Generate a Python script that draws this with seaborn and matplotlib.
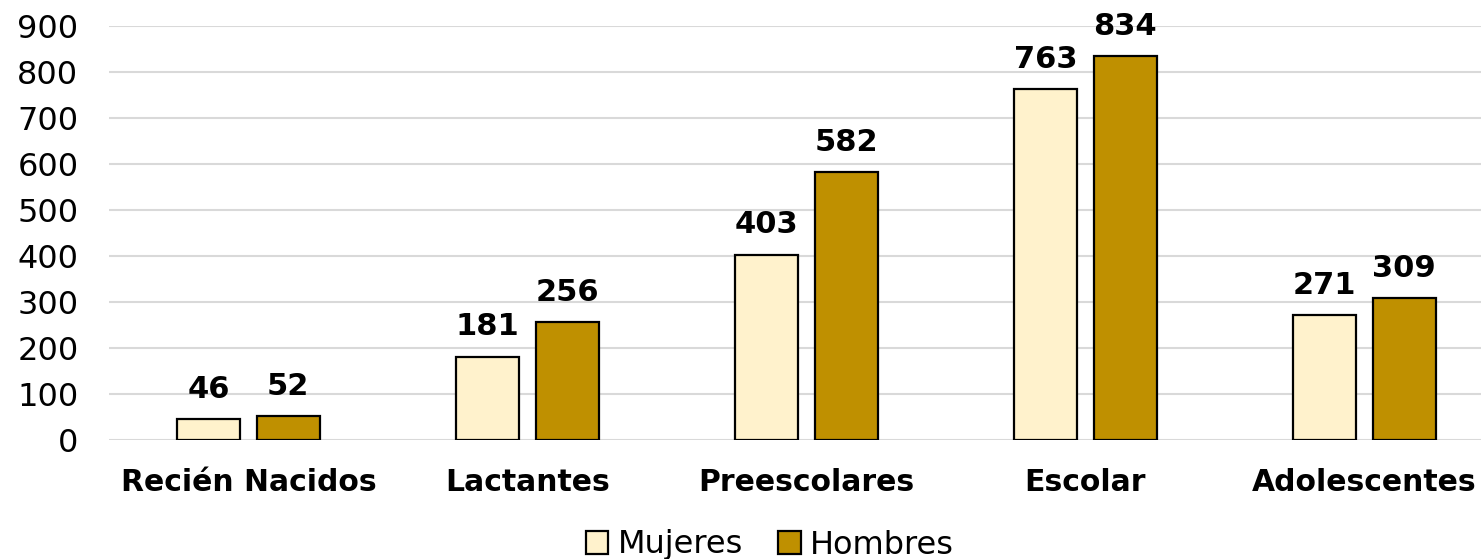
import matplotlib
matplotlib.use("Agg")
import matplotlib.pyplot as plt
import seaborn as sns
import pandas as pd

categorias = ["Recién Nacidos", "Lactantes", "Preescolares", "Escolar", "Adolescentes"]
mujeres = [46, 181, 403, 763, 271]
hombres = [52, 256, 582, 834, 309]
series = ["Mujeres", "Hombres"]
colores = {"Mujeres": "#FFF2CC", "Hombres": "#BF9000"}

df = pd.DataFrame({
    "Grupo": categorias * 2,
    "Valor": mujeres + hombres,
    "Sexo": [series[0]] * len(categorias) + [series[1]] * len(categorias),
})

sns.set_theme(style="white")
plt.rcParams['font.family'] = ['DejaVu Sans']

fig = plt.figure(figsize=(14.81, 5.59), dpi=100)
ax = fig.add_axes([109/1481, 119/559, (1481-109)/1481, 414/559])

sns.barplot(data=df, x="Grupo", y="Valor", hue="Sexo", palette=colores,
            saturation=1, width=0.57, gap=0.2075, edgecolor="black", linewidth=1.6,
            ax=ax, legend=True, zorder=3)

ax.set_ylim(0, 900)
ax.set_xlim(-0.5, 4.418)
ax.set_yticks(range(0, 901, 100))
ax.yaxis.grid(True, color="#D9D9D9", linewidth=1.5, zorder=0)
ax.set_axisbelow(True)
for s in ax.spines.values():
    s.set_visible(False)
ax.set_xlabel("")
ax.set_ylabel("")
ax.tick_params(axis="y", length=0, pad=22, labelsize=23, labelcolor="black")
ax.tick_params(axis="x", length=0, pad=20, labelsize=21.5, labelcolor="black")
for lab in ax.get_xticklabels():
    lab.set_fontweight("bold")

for cont in ax.containers:
    ax.bar_label(cont, labels=[f"{int(v)}" for v in cont.datavalues],
                 padding=11, fontsize=22, fontweight="bold", color="black")

ax.get_legend().remove()
handles, labels = ax.get_legend_handles_labels()
leg = fig.legend(handles, labels, loc="center", bbox_to_anchor=(770/1481, 14/559),
                 ncol=2, frameon=False, fontsize=23, handlelength=0.7, handleheight=0.7,
                 handletextpad=0.3, columnspacing=1.1, borderaxespad=0)
for t in leg.get_texts():
    t.set_color("black")

fig.savefig("out.png", dpi=100, facecolor="white")
